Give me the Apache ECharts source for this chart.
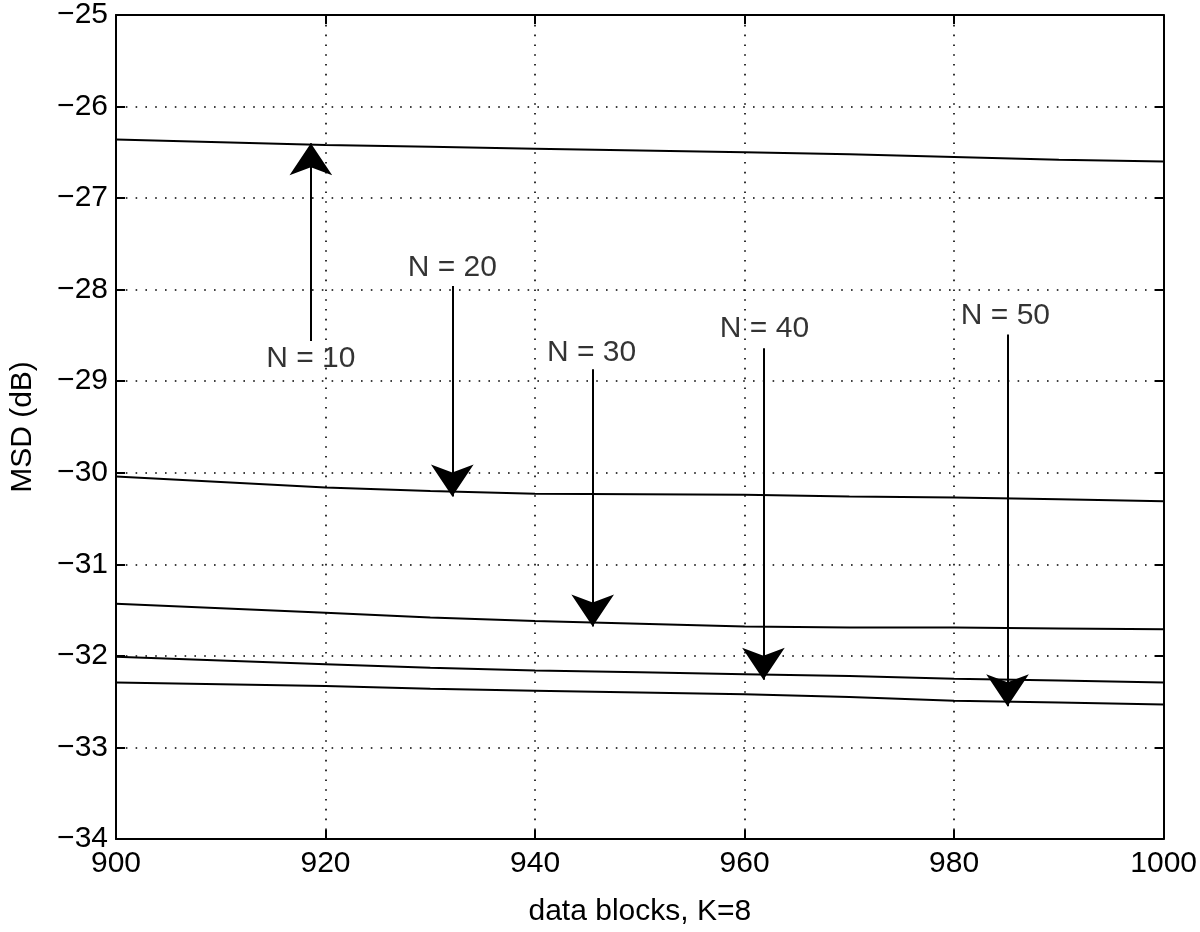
<!DOCTYPE html>
<html>
<head>
<meta charset="utf-8">
<script src="https://cdn.jsdelivr.net/npm/echarts@6/dist/echarts.min.js"></script>
<style>
html,body{margin:0;padding:0;background:#fff;}
#chart{width:1200px;height:932px;}
</style>
</head>
<body>
<div id="chart"></div>
<script>
const xBlocks = [900, 910, 920, 930, 940, 950, 960, 970, 980, 990, 1000];
const msdN10 = [-26.36, -26.39, -26.42, -26.44, -26.46, -26.48, -26.50, -26.52, -26.55, -26.58, -26.60];
const msdN20 = [-30.04, -30.10, -30.16, -30.20, -30.23, -30.235, -30.24, -30.26, -30.27, -30.29, -30.31];
const msdN30 = [-31.43, -31.48, -31.53, -31.58, -31.62, -31.65, -31.68, -31.69, -31.69, -31.70, -31.71];
const msdN40 = [-32.01, -32.05, -32.09, -32.13, -32.16, -32.18, -32.20, -32.22, -32.25, -32.27, -32.29];
const msdN50 = [-32.29, -32.31, -32.33, -32.36, -32.38, -32.40, -32.42, -32.45, -32.49, -32.51, -32.53];

const annoText = ['N = 10', 'N = 20', 'N = 30', 'N = 40', 'N = 50'];
const annoX = [918.6, 932.1, 945.4, 961.9, 984.9];
const annoY = [-28.75, -27.76, -28.69, -28.43, -28.28];
const arrowX = [918.6, 932.1, 945.5, 961.8, 985.1];
const arrowTail = [-28.56, -27.96, -28.87, -28.64, -28.49];
const arrowTip = [-26.40, -30.26, -31.68, -32.26, -32.55];

const xTicks = [900, 920, 940, 960, 980, 1000];
const yTicks = [-25, -26, -27, -28, -29, -30, -31, -32, -33, -34];

const FONT = 'Liberation Sans';
const FS = 30;
const chart = echarts.init(document.getElementById('chart'), null, {renderer: 'canvas'});

function pairs(ys) { return xBlocks.map((x, i) => [x, ys[i]]); }
const curveStyle = {color: '#000', width: 2};
function curve(name, ys) {
  return {name, type: 'line', data: pairs(ys), showSymbol: false, symbol: 'none',
    lineStyle: curveStyle, itemStyle: {color: '#000'}, z: 3, silent: true, animation: false};
}
const minusFmt = v => String(v).replace('-', '\u2212');
const plainFmt = v => String(v);

const gridLine = {show: true, lineStyle: {color: '#000', width: 1.6, type: [1.6, 8.2]}};

chart.setOption({
  animation: false,
  backgroundColor: '#fff',
  grid: {left: 110, right: 36, top: 11, bottom: 90, containLabel: false},
  xAxis: [{
    type: 'value', min: 900, max: 1000, interval: 20,
    name: 'data blocks, K=8', nameLocation: 'middle', nameGap: 58,
    nameTextStyle: {fontFamily: FONT, fontSize: FS, color: '#000'},
    axisLine: {show: true, onZero: false, lineStyle: {color: '#000', width: 2}},
    axisTick: {show: true, inside: true, length: 9, lineStyle: {color: '#000', width: 2}},
    axisLabel: {fontFamily: FONT, fontSize: FS, color: '#000', margin: 10, formatter: plainFmt},
    splitLine: gridLine
  }, {
    type: 'value', min: 900, max: 1000, interval: 20, position: 'top',
    axisLine: {show: true, onZero: false, lineStyle: {color: '#000', width: 2}},
    axisTick: {show: true, inside: true, length: 9, lineStyle: {color: '#000', width: 2}},
    axisLabel: {show: false}, splitLine: {show: false}
  }],
  yAxis: [{
    type: 'value', min: -34, max: -25, interval: 1,
    name: 'MSD (dB)', nameLocation: 'middle', nameGap: 78, nameRotate: 90,
    nameTextStyle: {fontFamily: FONT, fontSize: FS, color: '#000'},
    axisLine: {show: true, onZero: false, lineStyle: {color: '#000', width: 2}},
    axisTick: {show: true, inside: true, length: 9, lineStyle: {color: '#000', width: 2}},
    axisLabel: {fontFamily: FONT, fontSize: FS, color: '#000', margin: 8, formatter: minusFmt},
    splitLine: gridLine
  }, {
    type: 'value', min: -34, max: -25, interval: 1, position: 'right',
    axisLine: {show: true, onZero: false, lineStyle: {color: '#000', width: 2}},
    axisTick: {show: true, inside: true, length: 9, lineStyle: {color: '#000', width: 2}},
    axisLabel: {show: false}, splitLine: {show: false}
  }],
  series: [
    curve('N = 10', msdN10),
    curve('N = 20', msdN20),
    curve('N = 30', msdN30),
    curve('N = 40', msdN40),
    curve('N = 50', msdN50),
    {
      type: 'lines', coordinateSystem: 'cartesian2d', polyline: false, silent: true, z: 4,
      symbol: ['none', 'arrow'], symbolSize: [16, 32], symbolOffset: [0, '50%'],
      lineStyle: {color: '#000', width: 2, opacity: 1},
      effect: {show: false},
      data: arrowX.map((x, i) => ({coords: [[x, arrowTail[i]], [x, arrowTip[i]]]}))
    },
    {
      type: 'scatter', symbolSize: 0, silent: true, z: 5,
      data: annoText.map((t, i) => ({name: t, value: [annoX[i], annoY[i]]})),
      label: {show: true, position: 'inside', formatter: '{b}', fontFamily: FONT, fontSize: FS, color: '#000'}
    }
  ]
});
</script>
</body>
</html>
